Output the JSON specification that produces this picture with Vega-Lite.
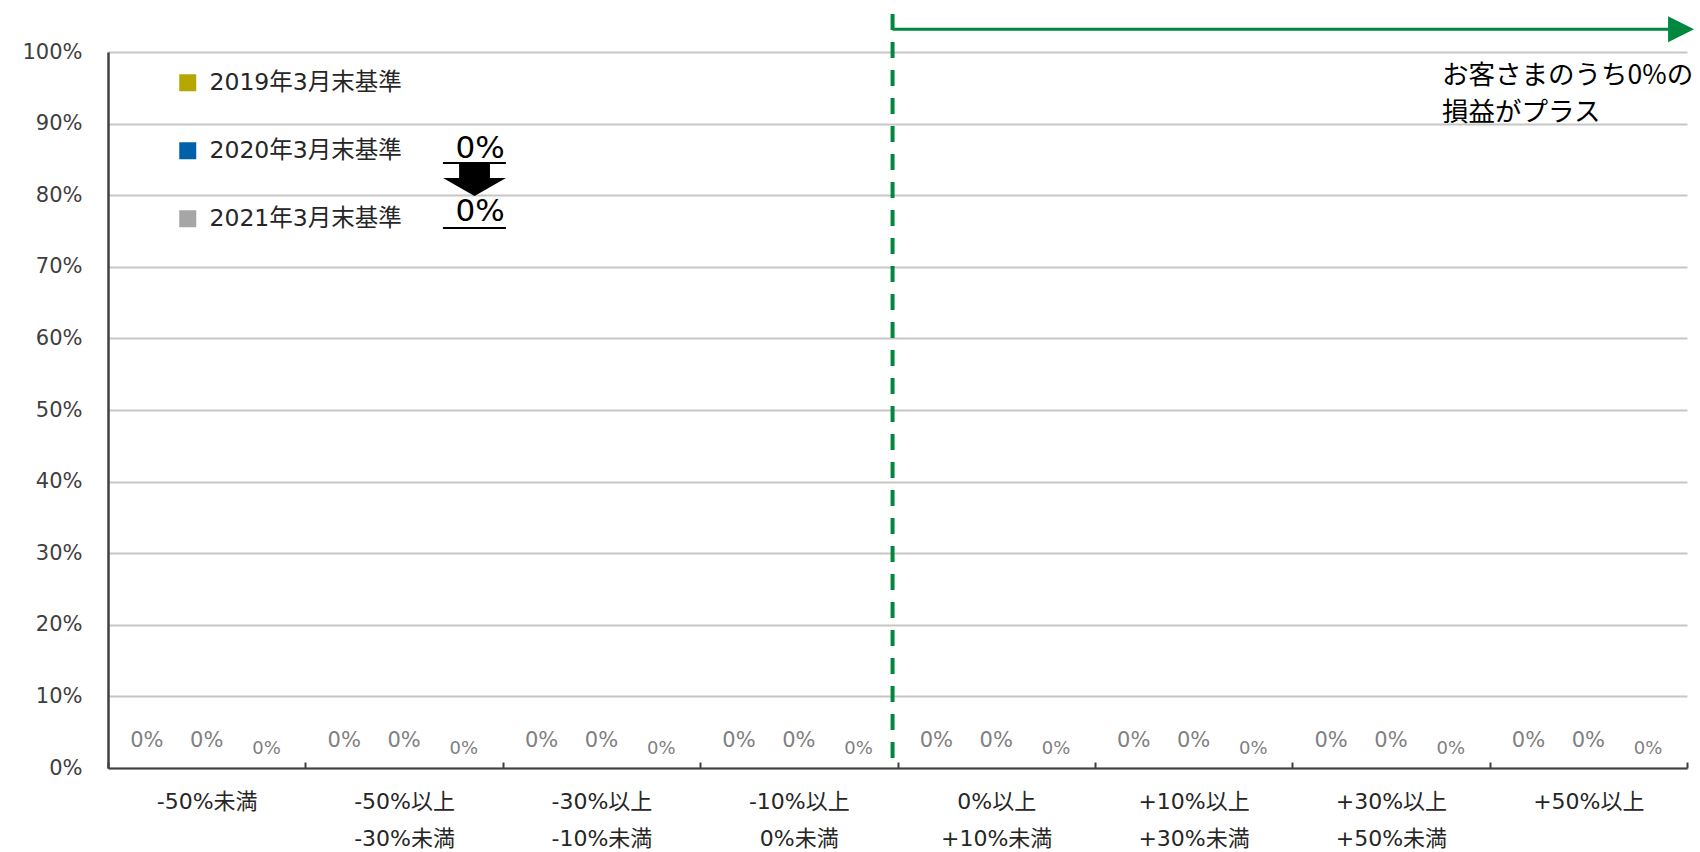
{
  "$schema": "https://vega.github.io/schema/vega-lite/v6.json",
  "width": 1579,
  "height": 716,
  "autosize": "none",
  "padding": {"left": 108, "top": 52, "right": 13, "bottom": 84},
  "background": "white",
  "config": {"view": {"stroke": null}, "font": "DejaVu Sans, Noto Sans CJK JP"},
  "datasets": {
    "dist": [
      {"range": "-50%未満", "series": "2019年3月末基準", "share": 0},
      {"range": "-50%未満", "series": "2020年3月末基準", "share": 0},
      {"range": "-50%未満", "series": "2021年3月末基準", "share": 0},
      {"range": "-50%以上 -30%未満", "series": "2019年3月末基準", "share": 0},
      {"range": "-50%以上 -30%未満", "series": "2020年3月末基準", "share": 0},
      {"range": "-50%以上 -30%未満", "series": "2021年3月末基準", "share": 0},
      {"range": "-30%以上 -10%未満", "series": "2019年3月末基準", "share": 0},
      {"range": "-30%以上 -10%未満", "series": "2020年3月末基準", "share": 0},
      {"range": "-30%以上 -10%未満", "series": "2021年3月末基準", "share": 0},
      {"range": "-10%以上 0%未満", "series": "2019年3月末基準", "share": 0},
      {"range": "-10%以上 0%未満", "series": "2020年3月末基準", "share": 0},
      {"range": "-10%以上 0%未満", "series": "2021年3月末基準", "share": 0},
      {"range": "0%以上 +10%未満", "series": "2019年3月末基準", "share": 0},
      {"range": "0%以上 +10%未満", "series": "2020年3月末基準", "share": 0},
      {"range": "0%以上 +10%未満", "series": "2021年3月末基準", "share": 0},
      {"range": "+10%以上 +30%未満", "series": "2019年3月末基準", "share": 0},
      {"range": "+10%以上 +30%未満", "series": "2020年3月末基準", "share": 0},
      {"range": "+10%以上 +30%未満", "series": "2021年3月末基準", "share": 0},
      {"range": "+30%以上 +50%未満", "series": "2019年3月末基準", "share": 0},
      {"range": "+30%以上 +50%未満", "series": "2020年3月末基準", "share": 0},
      {"range": "+30%以上 +50%未満", "series": "2021年3月末基準", "share": 0},
      {"range": "+50%以上", "series": "2019年3月末基準", "share": 0},
      {"range": "+50%以上", "series": "2020年3月末基準", "share": 0},
      {"range": "+50%以上", "series": "2021年3月末基準", "share": 0}
    ]
  },
  "layer": [
    {
      "data": {"name": "dist"},
      "encoding": {
        "x": {
          "field": "range", "type": "nominal", "sort": null,
          "scale": {"domain": ["-50%未満", "-50%以上 -30%未満", "-30%以上 -10%未満", "-10%以上 0%未満", "0%以上 +10%未満", "+10%以上 +30%未満", "+30%以上 +50%未満", "+50%以上"], "paddingInner": 0, "paddingOuter": 0},
          "axis": {
            "title": null, "grid": false, "domain": true, "domainColor": "#404040", "domainWidth": 2,
            "ticks": true, "tickBand": "extent", "tickSize": -6, "tickColor": "#404040", "tickWidth": 2,
            "labelAngle": 0, "labelFontSize": 22, "labelColor": "#262626", "labelFont": "DejaVu Sans, Noto Sans CJK JP",
            "labelLineHeight": 37, "labelBaseline": "top", "labelPadding": 29, "labelLimit": 400,
            "labelExpr": "split(datum.label, ' ')"
          }
        },
        "xOffset": {
          "field": "series", "type": "nominal",
          "scale": {"domain": ["2019年3月末基準", "2020年3月末基準", "2021年3月末基準"], "paddingInner": 0.1, "paddingOuter": 0.2}
        },
        "y": {
          "field": "share", "type": "quantitative",
          "scale": {"domain": [0, 1], "nice": false},
          "axis": {
            "title": null, "values": [0, 0.1, 0.2, 0.3, 0.4, 0.5, 0.6, 0.7, 0.8, 0.9, 1], "format": ".0%",
            "grid": true, "gridColor": "#c6c6c6", "gridWidth": 2,
            "domainColor": "#404040", "domainWidth": 2.5, "ticks": false,
            "labelPadding": 26, "labelFontSize": 21, "labelColor": "#404040", "labelFont": "DejaVu Sans"
          }
        }
      },
      "layer": [
        {
          "mark": {"type": "bar"},
          "encoding": {
            "color": {
              "field": "series", "type": "nominal",
              "scale": {"domain": ["2019年3月末基準", "2020年3月末基準", "2021年3月末基準"], "range": ["#b4a700", "#0061aa", "#a6a6a6"]},
              "legend": {
                "title": null, "orient": "none", "legendX": 68, "legendY": 19, "direction": "vertical",
                "symbolType": "square", "symbolSize": 289, "symbolStrokeWidth": 0,
                "labelFontSize": 23.5, "labelColor": "#262626", "labelFont": "DejaVu Sans, Noto Sans CJK JP",
                "labelOffset": 10, "rowPadding": 43, "padding": 0, "labelLimit": 400
              }
            }
          }
        },
        {
          "transform": [{"filter": "datum.series != '2021年3月末基準'"}],
          "mark": {"type": "text", "dy": -27, "fontSize": 21, "color": "#808080", "font": "DejaVu Sans", "baseline": "middle"},
          "encoding": {"text": {"field": "share", "type": "quantitative", "format": ".0%"}}
        },
        {
          "transform": [{"filter": "datum.series == '2021年3月末基準'"}],
          "mark": {"type": "text", "dy": -19, "fontSize": 18, "color": "#808080", "font": "DejaVu Sans", "baseline": "middle"},
          "encoding": {"text": {"field": "share", "type": "quantitative", "format": ".0%"}}
        }
      ]
    },
    {
      "layer": [
        {
          "data": {"values": [{"boundary": "0%"}]},
          "mark": {"type": "rule", "color": "#00893e", "strokeWidth": 4, "strokeDash": [16, 12]},
          "encoding": {
            "x": {"datum": 3.975, "type": "quantitative", "scale": {"domain": [0, 8]}, "axis": null},
            "y": {"datum": 0.014, "type": "quantitative", "scale": {"domain": [0, 1]}},
            "y2": {"datum": 1.053}
          }
        },
        {
          "data": {"values": [{"direction": "plus"}]},
          "mark": {"type": "rule", "color": "#00893e", "strokeWidth": 3},
          "encoding": {
            "x": {"datum": 3.975, "type": "quantitative", "scale": {"domain": [0, 8]}, "axis": null},
            "x2": {"datum": 7.97},
            "y": {"datum": 1.0317, "type": "quantitative", "scale": {"domain": [0, 1]}}
          }
        },
        {
          "data": {"values": [{"direction": "plus"}]},
          "mark": {"type": "point", "shape": "M1,0L-1,-1L-1,1Z", "size": 676, "filled": true, "opacity": 1, "color": "#00893e", "strokeWidth": 0},
          "encoding": {
            "x": {"datum": 7.97, "type": "quantitative", "scale": {"domain": [0, 8]}, "axis": null},
            "y": {"datum": 1.0317, "type": "quantitative", "scale": {"domain": [0, 1]}}
          }
        },
        {
          "data": {"values": [{"note": "お客さまのうち0%の|損益がプラス"}]},
          "mark": {"type": "text", "align": "left", "baseline": "middle", "lineBreak": "|", "lineHeight": 37, "fontSize": 26.5, "font": "Noto Sans CJK JP", "color": "#000000"},
          "encoding": {
            "x": {"datum": 6.759, "type": "quantitative", "scale": {"domain": [0, 8]}, "axis": null},
            "y": {"datum": 0.9665, "type": "quantitative", "scale": {"domain": [0, 1]}},
            "text": {"field": "note"}
          }
        },
        {
          "data": {"values": [{"label": "0%"}]},
          "mark": {"type": "text", "align": "center", "baseline": "middle", "fontSize": 31, "font": "DejaVu Sans", "color": "#000000"},
          "encoding": {
            "x": {"datum": 1.885, "type": "quantitative", "scale": {"domain": [0, 8]}, "axis": null},
            "y": {"datum": 0.8645, "type": "quantitative", "scale": {"domain": [0, 1]}},
            "text": {"field": "label"}
          }
        },
        {
          "data": {"values": [{"label": "0%"}]},
          "mark": {"type": "text", "align": "center", "baseline": "middle", "fontSize": 31, "font": "DejaVu Sans", "color": "#000000"},
          "encoding": {
            "x": {"datum": 1.885, "type": "quantitative", "scale": {"domain": [0, 8]}, "axis": null},
            "y": {"datum": 0.7765, "type": "quantitative", "scale": {"domain": [0, 1]}},
            "text": {"field": "label"}
          }
        },
        {
          "data": {"values": [{"line": "underline 2020"}]},
          "mark": {"type": "rule", "color": "#000000", "strokeWidth": 2},
          "encoding": {
            "x": {"datum": 1.697, "type": "quantitative", "scale": {"domain": [0, 8]}, "axis": null},
            "x2": {"datum": 2.016},
            "y": {"datum": 0.845, "type": "quantitative", "scale": {"domain": [0, 1]}}
          }
        },
        {
          "data": {"values": [{"line": "underline 2021"}]},
          "mark": {"type": "rule", "color": "#000000", "strokeWidth": 2},
          "encoding": {
            "x": {"datum": 1.697, "type": "quantitative", "scale": {"domain": [0, 8]}, "axis": null},
            "x2": {"datum": 2.016},
            "y": {"datum": 0.7542, "type": "quantitative", "scale": {"domain": [0, 1]}}
          }
        },
        {
          "data": {"values": [{"arrow": "down"}]},
          "mark": {"type": "point", "shape": "M-0.49,-0.524L0.49,-0.524L0.49,-0.048L1,-0.048L0,0.524L-1,-0.048L-0.49,-0.048Z", "size": 3969, "filled": true, "opacity": 1, "color": "#000000", "strokeWidth": 0},
          "encoding": {
            "x": {"datum": 1.857, "type": "quantitative", "scale": {"domain": [0, 8]}, "axis": null},
            "y": {"datum": 0.822, "type": "quantitative", "scale": {"domain": [0, 1]}}
          }
        }
      ]
    }
  ],
  "resolve": {"scale": {"x": "independent"}}
}
